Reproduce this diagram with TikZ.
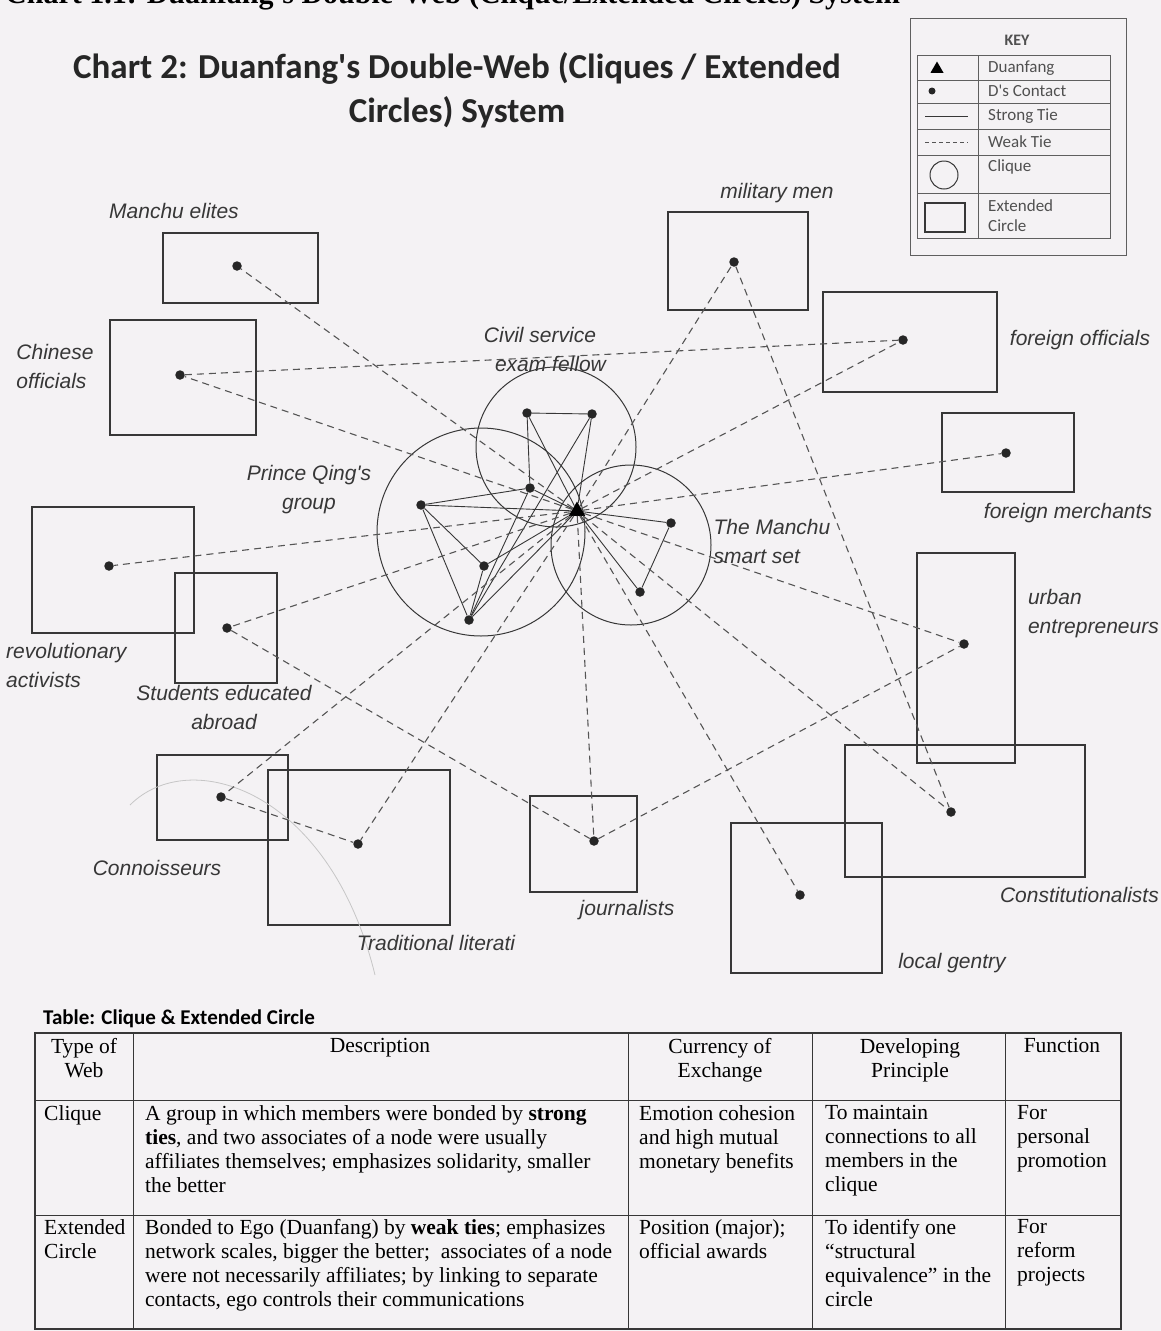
\documentclass[tikz,border=0pt]{standalone}
\usepackage{fontspec}
\setmainfont{Liberation Serif}
\newfontfamily\keyfont{Carlito}
\newfontfamily\handfont{Liberation Sans}
\usetikzlibrary{shapes.geometric,positioning}
\definecolor{paper}{RGB}{244,242,244}
\definecolor{pencil}{RGB}{55,55,55}
\definecolor{keygray}{RGB}{80,80,80}

\begin{document}
\begin{tikzpicture}[x=1pt,y=-1pt,
    contact/.style={circle, fill=black!85, inner sep=0pt, minimum size=9.5pt},
    ego/.style={regular polygon, regular polygon sides=3, fill=black, inner sep=0pt, minimum size=19pt},
    strong/.style={pencil, line width=0.9pt},
    weak/.style={pencil!85, line width=1.1pt, dash pattern=on 7pt off 5pt},
    clique/.style={pencil, line width=1pt},
    extcircle/.style={pencil, line width=1.2pt},
    hand/.style={font=\handfont\itshape\fontsize{21}{29}\selectfont, text=pencil, align=center, inner sep=0pt},
    keytxt/.style={font=\keyfont\fontsize{17}{20}\selectfont, text=keygray, anchor=west, inner sep=0pt},
    cell/.style={font=\fontsize{21.5}{24}\selectfont, anchor=north west, align=left, inner sep=0pt},
    head/.style={font=\fontsize{21.5}{24}\selectfont, anchor=north, align=center, inner sep=0pt}]
    \fill[paper] (0,0) rectangle (1161,1331);
    \useasboundingbox (0,0) rectangle (1161,1331);

    % headings
    \node[anchor=base west, inner sep=0pt, font=\bfseries\fontsize{30}{30}\selectfont] (top) at (5,3)
        {Chart 1.1: Duanfang's Double-Web (Clique/Extended Circles) System};
    \node[align=center, inner sep=0pt, font=\keyfont\bfseries\fontsize{35}{44}\selectfont, text=black!85] (title) at (457,90)
        {Chart 2: Duanfang's Double-Web (Cliques / Extended\\Circles) System};

    % key
    \draw[pencil!80, line width=1pt] (910,18) rectangle (1126,255);
    \draw[pencil!80, line width=0.8pt] (917,55) rectangle (1110,238);
    \draw[pencil!80, line width=0.8pt] (978,55) -- (978,238);
    \foreach \yy in {80,103,129,155,193}
        \draw[pencil!80, line width=0.8pt] (917,\yy) -- (1110,\yy);
    \node[font=\keyfont\bfseries\fontsize{16}{16}\selectfont, text=keygray] (keyhead) at (1017,40) {KEY};
    \node[ego, minimum size=15pt] (kego) at (937,69) {};
    \node[contact, minimum size=7pt] (kdot) at (932,91) {};
    \coordinate (ks1) at (925,116);
    \coordinate (ks2) at (968,116);
    \coordinate (kw1) at (925,142);
    \coordinate (kw2) at (968,142);
    \draw[strong] (ks1) -- (ks2);
    \draw[weak, line width=0.8pt, dash pattern=on 4pt off 3pt] (kw1) -- (kw2);
    \draw[clique] (944,175) circle (14);
    \draw[extcircle] (925,203) rectangle (965,232);
    \node[keytxt] (k1) at (988,68) {Duanfang};
    \node[keytxt] (k2) at (988,91) {D's Contact};
    \node[keytxt] (k3) at (988,116) {Strong Tie};
    \node[keytxt] (k4) at (988,142) {Weak Tie};
    \node[keytxt] (k5) at (988,167) {Clique};
    \node[keytxt, align=left] (k6) at (988,216) {Extended\\Circle};

    % cliques
    \draw[clique] (556,447) circle (80);
    \draw[clique] (481,532) circle (104);
    \draw[clique] (631,545) circle (80);

    % extended circles
    \draw[extcircle] (163,233) rectangle (318,303);
    \draw[extcircle] (110,320) rectangle (256,435);
    \draw[extcircle] (668,212) rectangle (808,310);
    \draw[extcircle] (823,292) rectangle (997,392);
    \draw[extcircle] (942,413) rectangle (1074,492);
    \draw[extcircle] (32,507) rectangle (194,633);
    \draw[extcircle] (175,573) rectangle (277,683);
    \draw[extcircle] (917,553) rectangle (1015,763);
    \draw[extcircle] (845,745) rectangle (1085,877);
    \draw[extcircle] (731,823) rectangle (882,973);
    \draw[extcircle] (530,796) rectangle (637,892);
    \draw[extcircle] (157,755) rectangle (288,840);
    \draw[extcircle] (268,770) rectangle (450,925);
    \draw[gray!45, line width=0.8pt] (130,805) .. controls (190,745) and (330,790) .. (375,975);

    % Duanfang and clique members
    \node[ego] (D) at (577,511) {};
    \node[contact] (a1) at (527,413) {};
    \node[contact] (a2) at (592,414) {};
    \node[contact] (a3) at (530,488) {};
    \node[contact] (b1) at (421,505) {};
    \node[contact] (b2) at (484,566) {};
    \node[contact] (b3) at (469,620) {};
    \node[contact] (c1) at (671,523) {};
    \node[contact] (c2) at (640,592) {};

    % contacts of the extended circles
    \node[contact] (elite) at (237,266) {};
    \node[contact] (chnoff) at (180,375) {};
    \node[contact] (milit) at (734,262) {};
    \node[contact] (foroff) at (903,340) {};
    \node[contact] (formerch) at (1006,453) {};
    \node[contact] (revol) at (109,566) {};
    \node[contact] (stud) at (227,628) {};
    \node[contact] (urban) at (964,644) {};
    \node[contact] (const) at (951,812) {};
    \node[contact] (gentry) at (800,895) {};
    \node[contact] (journ) at (594,841) {};
    \node[contact] (conno) at (221,797) {};
    \node[contact] (lit) at (358,844) {};

    % strong ties
    \draw[strong] (a1) -- (a2) -- (D) -- (a1) -- (a3) -- (D);
    \draw[strong] (a2) -- (b3);
    \draw[strong] (a3) -- (b3);
    \draw[strong] (b1) -- (a3);
    \draw[strong] (b1) -- (D);
    \draw[strong] (b1) -- (b2) -- (b3) -- (b1);
    \draw[strong] (b2) -- (D);
    \draw[strong] (b3) -- (D);
    \draw[strong] (D) -- (c1) -- (c2) -- (D);

    % weak ties
    \foreach \cc in {elite,chnoff,milit,foroff,formerch,revol,stud,urban,const,gentry,journ,conno,lit}
        \draw[weak] (D) -- (\cc);
    \draw[weak] (chnoff) -- (foroff);
    \draw[weak] (milit) -- (const);
    \draw[weak] (journ) -- (urban);
    \draw[weak] (stud) -- (journ);
    \draw[weak] (conno) -- (lit);

    % handwritten labels
    \node[hand] (lelite) at (174,211) {Manchu elites};
    \node[hand, align=left] (lchnoff) at (55,366) {Chinese\\ officials};
    \node[hand] (lcivil) at (540,349) {Civil service\\\quad exam fellow};
    \node[hand] (lqing) at (309,490) {Prince Qing's\\group};
    \node[hand, align=left] (lsmart) at (772,541) {The Manchu\\ smart set};
    \node[hand] (lmilit) at (777,193) {military men};
    \node[hand] (lforoff) at (1080,340) {foreign officials};
    \node[hand] (lformerch) at (1068,513) {foreign merchants};
    \node[hand, align=left, anchor=east] (lurban) at (1159,614) {urban\\entrepreneurs};
    \node[hand, align=left, anchor=west] (lrevol) at (6,665) {revolutionary\\activists};
    \node[hand] (lstud) at (224,707) {Students educated\\abroad};
    \node[hand] (lconno) at (157,868) {Connoisseurs};
    \node[hand] (llit) at (436,943) {Traditional literati};
    \node[hand] (ljourn) at (627,910) {journalists};
    \node[hand] (lgentry) at (952,963) {local gentry};
    \node[hand, anchor=east] (lconst) at (1159,895) {Constitutionalists};

    % table
    \node[anchor=base west, inner sep=0pt, font=\keyfont\bfseries\fontsize{21}{21}\selectfont] (tabtitle) at (43,1024)
        {Table: Clique \& Extended Circle};
    \draw[pencil, line width=1.1pt] (35,1033) rectangle (1121,1329);
    \foreach \xx in {133,628,812,1005}
        \draw[pencil, line width=1pt] (\xx,1033) -- (\xx,1329);
    \foreach \yy in {1100,1215}
        \draw[pencil, line width=1pt] (35,\yy) -- (1121,\yy);

    \node[head] (h1) at (84,1038) {Type of\\Web};
    \node[head] (h2) at (380,1038) {Description};
    \node[head] (h3) at (720,1038) {Currency of\\Exchange};
    \node[head] (h4) at (910,1038) {Developing\\Principle};
    \node[head] (h5) at (1062,1038) {Function};

    \node[cell] (r1c1) at (44,1105) {Clique};
    \node[cell] (r1c2) at (145,1105) {A group in which members were bonded by \textbf{strong}\\\textbf{ties}, and two associates of a node were usually\\affiliates themselves; emphasizes solidarity, smaller\\the better};
    \node[cell] (r1c3) at (639,1105) {Emotion cohesion\\and high mutual\\monetary benefits};
    \node[cell] (r1c4) at (825,1105) {To maintain\\connections to all\\members in the\\clique};
    \node[cell] (r1c5) at (1017,1105) {For\\personal\\promotion};

    \node[cell] (r2c1) at (44,1219) {Extended\\Circle};
    \node[cell] (r2c2) at (145,1219) {Bonded to Ego (Duanfang) by \textbf{weak ties}; emphasizes\\network scales, bigger the better;\ \ associates of a node\\were not necessarily affiliates; by linking to separate\\contacts, ego controls their communications};
    \node[cell] (r2c3) at (639,1219) {Position (major);\\official awards};
    \node[cell] (r2c4) at (825,1219) {To identify one\\``structural\\equivalence'' in the\\circle};
    \node[cell] (r2c5) at (1017,1219) {For\\reform\\projects};
\end{tikzpicture}
\end{document}
